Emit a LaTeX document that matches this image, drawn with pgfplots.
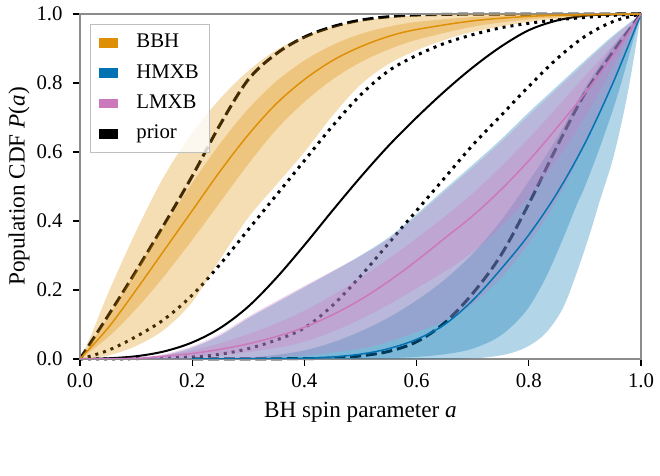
\documentclass[border=0pt]{standalone}
\usepackage{fontspec}
\setmainfont{Liberation Serif}
\usepackage{pgfplots}
\pgfplotsset{compat=1.18}
\usepgfplotslibrary{fillbetween}
\definecolor{cbOrange}{HTML}{DE8F05}
\definecolor{cbBlue}{HTML}{0173B2}
\definecolor{cbPink}{HTML}{CC78BC}
\begin{document}
\begin{tikzpicture}
\begin{axis}[
  at={(0,0)}, anchor=south west,
  scale only axis, width=280.5pt, height=172.5pt,
  xmin=0, xmax=1, ymin=0, ymax=1,
  xtick={0,0.2,0.4,0.6,0.8,1}, ytick={0,0.2,0.4,0.6,0.8,1},
  xticklabels={0.0,0.2,0.4,0.6,0.8,1.0},
  yticklabels={0.0,0.2,0.4,0.6,0.8,1.0},
  tick align=outside, tick pos=left,
  major tick length=3.5pt,
  every tick/.style={black, line width=0.6pt},
  axis line style={draw=black!45, line width=0.6pt},
  tick label style={font=\fontsize{10.4}{12}\selectfont},
  xticklabel style={yshift=-0.5pt},
  yticklabel style={xshift=-1.7pt},
  xlabel={BH spin parameter \textit{a}},
  ylabel={Population CDF \textit{P}(\textit{a})},
  label style={font=\fontsize{11.6}{14}\selectfont},
  xlabel style={at={(axis description cs:0.5,-0.1246)}, anchor=north, inner sep=0pt},
  ylabel style={at={(axis description cs:-0.0891,0.5)}, anchor=south, inner sep=0pt},
  legend cell align=left,
  legend style={at={(axis description cs:0,1)}, anchor=north west, xshift=5pt, yshift=-5pt,
    draw=black!25, fill=white, fill opacity=0.8, draw opacity=1, text opacity=1,
    font=\fontsize{10.4}{12}\selectfont, inner xsep=4.5pt, inner ysep=3.7pt,
    row sep=4.2pt, column sep=8pt,
    nodes={inner sep=1pt, text height=7pt, text depth=2pt}},
  legend image code/.code={\fill[#1, draw=none, fill opacity=1] (0pt,-2.4pt) rectangle (9.5pt,2.4pt);},
  every axis plot/.append style={smooth, tension=0.55},
]
% ---------- black reference lines (beneath the bands)
\addplot[forget plot, on layer=axis grid, black, line width=1pt] coordinates {
(0,0) (0.05,0.002) (0.1,0.008) (0.15,0.022) (0.2,0.048) (0.25,0.09) (0.3,0.152) (0.35,0.235) (0.4,0.33) (0.45,0.43) (0.5,0.527) (0.55,0.618) (0.6,0.7) (0.65,0.776) (0.7,0.845) (0.75,0.905) (0.8,0.953) (0.85,0.981) (0.9,0.995) (0.95,0.999) (1,1)};
\addplot[forget plot, on layer=axis grid, black, line width=1.5pt, dash pattern=on 1.5pt off 2.5pt] coordinates {
(0,0) (0.1,0.001) (0.2,0.006) (0.25,0.014) (0.3,0.03) (0.35,0.055) (0.4,0.09) (0.45,0.155) (0.5,0.24) (0.55,0.335) (0.6,0.43) (0.65,0.525) (0.7,0.62) (0.75,0.705) (0.8,0.79) (0.85,0.87) (0.9,0.935) (0.95,0.978) (1,1)};
\addplot[forget plot, on layer=axis grid, black, line width=1.5pt, dash pattern=on 5.5pt off 2.4pt] coordinates {
(0,0) (0.05,0.125) (0.1,0.255) (0.15,0.39) (0.2,0.53) (0.25,0.68) (0.3,0.81) (0.35,0.885) (0.4,0.933) (0.45,0.963) (0.5,0.982) (0.55,0.992) (0.6,0.997) (0.7,0.9995) (1,1)};
\addplot[forget plot, on layer=axis grid, black, line width=1.5pt, dash pattern=on 1.5pt off 2.5pt] coordinates {
(0,0) (0.05,0.025) (0.1,0.065) (0.15,0.115) (0.2,0.185) (0.25,0.275) (0.3,0.375) (0.35,0.475) (0.4,0.575) (0.45,0.675) (0.5,0.765) (0.55,0.835) (0.6,0.88) (0.65,0.915) (0.7,0.94) (0.75,0.96) (0.8,0.973) (0.85,0.983) (0.9,0.99) (0.95,0.996) (1,1)};
\addplot[forget plot, on layer=axis grid, black, line width=1.5pt, dash pattern=on 5.5pt off 2.4pt] coordinates {
(0.2,0) (0.4,0.001) (0.45,0.003) (0.5,0.009) (0.55,0.022) (0.6,0.05) (0.65,0.105) (0.7,0.19) (0.75,0.3) (0.8,0.45) (0.85,0.615) (0.9,0.77) (0.95,0.89) (1,1)};
% ---------- BBH bands
\addplot[forget plot, draw=none, name path=bbhLU] coordinates {
(0,0) (0.02,0.07) (0.05,0.19) (0.1,0.37) (0.15,0.53) (0.2,0.655) (0.25,0.755) (0.3,0.835) (0.35,0.895) (0.4,0.935) (0.45,0.963) (0.5,0.98) (0.55,0.99) (0.6,0.995) (0.7,0.999) (0.8,1) (1,1)};
\addplot[forget plot, draw=none, name path=bbhLL] coordinates {
(0,0) (0.05,0.01) (0.1,0.038) (0.15,0.085) (0.2,0.165) (0.25,0.29) (0.3,0.41) (0.35,0.505) (0.4,0.6) (0.45,0.705) (0.5,0.795) (0.55,0.855) (0.6,0.895) (0.65,0.925) (0.7,0.948) (0.8,0.977) (0.9,0.993) (1,1)};
\addplot[forget plot, draw=none, fill=cbOrange, fill opacity=0.3] fill between[of=bbhLU and bbhLL];
\addplot[forget plot, draw=none, name path=bbhDU] coordinates {
(0,0) (0.05,0.12) (0.1,0.255) (0.15,0.385) (0.2,0.51) (0.25,0.625) (0.3,0.725) (0.35,0.805) (0.4,0.865) (0.45,0.91) (0.5,0.942) (0.55,0.963) (0.6,0.977) (0.7,0.991) (0.8,0.997) (0.9,0.9995) (1,1)};
\addplot[forget plot, draw=none, name path=bbhDL] coordinates {
(0,0) (0.05,0.063) (0.1,0.145) (0.15,0.24) (0.2,0.345) (0.25,0.455) (0.3,0.565) (0.35,0.665) (0.4,0.745) (0.45,0.81) (0.5,0.86) (0.55,0.897) (0.6,0.925) (0.7,0.963) (0.8,0.984) (0.9,0.994) (1,1)};
\addplot[forget plot, draw=none, fill=cbOrange, fill opacity=0.3] fill between[of=bbhDU and bbhDL];
\addplot[forget plot, cbOrange, line width=0.75pt] coordinates {
(0,0) (0.05,0.09) (0.1,0.2) (0.15,0.315) (0.2,0.43) (0.25,0.545) (0.3,0.65) (0.35,0.74) (0.4,0.81) (0.45,0.865) (0.5,0.905) (0.55,0.935) (0.6,0.955) (0.7,0.98) (0.8,0.993) (0.9,0.998) (1,1)};
% ---------- HMXB bands
\addplot[forget plot, draw=none, name path=hmLU] coordinates {
(0,0) (0.1,0.003) (0.15,0.011) (0.2,0.033) (0.25,0.068) (0.3,0.118) (0.35,0.163) (0.4,0.208) (0.45,0.253) (0.5,0.3) (0.55,0.352) (0.6,0.42) (0.65,0.492) (0.7,0.563) (0.75,0.636) (0.8,0.715) (0.85,0.79) (0.9,0.865) (0.95,0.937) (1,1)};
\addplot[forget plot, draw=none, name path=hmLL] coordinates {
(0,0) (0.6,0) (0.7,0.002) (0.74,0.008) (0.77,0.018) (0.8,0.038) (0.83,0.075) (0.86,0.145) (0.885,0.248) (0.909,0.364) (0.927,0.461) (0.95,0.58) (0.97,0.72) (0.985,0.85) (1,1)};
\addplot[forget plot, draw=none, fill=cbBlue, fill opacity=0.3] fill between[of=hmLU and hmLL];
\addplot[forget plot, draw=none, name path=hmDU] coordinates {
(0,0) (0.2,0.001) (0.3,0.005) (0.35,0.012) (0.4,0.025) (0.45,0.048) (0.5,0.08) (0.55,0.12) (0.6,0.17) (0.65,0.23) (0.7,0.305) (0.75,0.4) (0.8,0.515) (0.85,0.64) (0.9,0.785) (0.95,0.905) (1,1)};
\addplot[forget plot, draw=none, name path=hmDL] coordinates {
(0,0) (0.3,0) (0.5,0.001) (0.6,0.006) (0.66,0.016) (0.7,0.03) (0.74,0.058) (0.77,0.095) (0.8,0.15) (0.83,0.235) (0.86,0.345) (0.885,0.445) (0.9,0.5) (0.927,0.615) (0.957,0.758) (0.986,0.922) (1,1)};
\addplot[forget plot, draw=none, fill=cbBlue, fill opacity=0.3] fill between[of=hmDU and hmDL];
\addplot[forget plot, cbBlue, line width=0.75pt] coordinates {
(0.2,0) (0.3,0.0005) (0.4,0.002) (0.45,0.006) (0.5,0.014) (0.55,0.03) (0.6,0.057) (0.65,0.1) (0.7,0.17) (0.75,0.26) (0.8,0.36) (0.85,0.48) (0.9,0.625) (0.95,0.8) (1,1)};
% ---------- LMXB bands
\addplot[forget plot, draw=none, name path=lmLU] coordinates {
(0,0) (0.1,0.004) (0.15,0.014) (0.2,0.037) (0.25,0.073) (0.3,0.123) (0.35,0.168) (0.4,0.212) (0.45,0.255) (0.5,0.298) (0.55,0.348) (0.6,0.414) (0.65,0.485) (0.7,0.555) (0.75,0.628) (0.8,0.706) (0.85,0.782) (0.9,0.858) (0.95,0.932) (1,1)};
\addplot[forget plot, draw=none, name path=lmLL] coordinates {
(0,0) (0.2,0) (0.3,0.002) (0.4,0.01) (0.5,0.03) (0.55,0.05) (0.6,0.078) (0.65,0.11) (0.7,0.16) (0.75,0.235) (0.8,0.335) (0.85,0.46) (0.9,0.62) (0.95,0.8) (1,1)};
\addplot[forget plot, draw=none, fill=cbPink, fill opacity=0.3] fill between[of=lmLU and lmLL];
\addplot[forget plot, draw=none, name path=lmDU] coordinates {
(0,0) (0.1,0.003) (0.2,0.025) (0.3,0.072) (0.4,0.14) (0.5,0.235) (0.6,0.35) (0.7,0.48) (0.8,0.64) (0.9,0.82) (1,1)};
\addplot[forget plot, draw=none, name path=lmDL] coordinates {
(0,0) (0.1,0.001) (0.2,0.006) (0.3,0.02) (0.4,0.05) (0.5,0.115) (0.6,0.205) (0.7,0.31) (0.8,0.47) (0.9,0.7) (1,1)};
\addplot[forget plot, draw=none, fill=cbPink, fill opacity=0.3] fill between[of=lmDU and lmDL];
\addplot[forget plot, cbPink, line width=0.75pt] coordinates {
(0,0) (0.1,0.002) (0.15,0.008) (0.2,0.016) (0.25,0.028) (0.3,0.044) (0.35,0.065) (0.4,0.092) (0.45,0.128) (0.5,0.172) (0.55,0.225) (0.6,0.285) (0.65,0.35) (0.7,0.415) (0.75,0.49) (0.8,0.575) (0.85,0.67) (0.9,0.77) (0.95,0.88) (1,1)};
% ---------- legend
\addlegendimage{fill=cbOrange}\addlegendentry{BBH}
\addlegendimage{fill=cbBlue}\addlegendentry{HMXB}
\addlegendimage{fill=cbPink}\addlegendentry{LMXB}
\addlegendimage{fill=black}\addlegendentry{prior}
\end{axis}
\pgfresetboundingbox
\path[use as bounding box] (-40pt,-58.5pt) rectangle (290pt,179.5pt);
\end{tikzpicture}
\end{document}
